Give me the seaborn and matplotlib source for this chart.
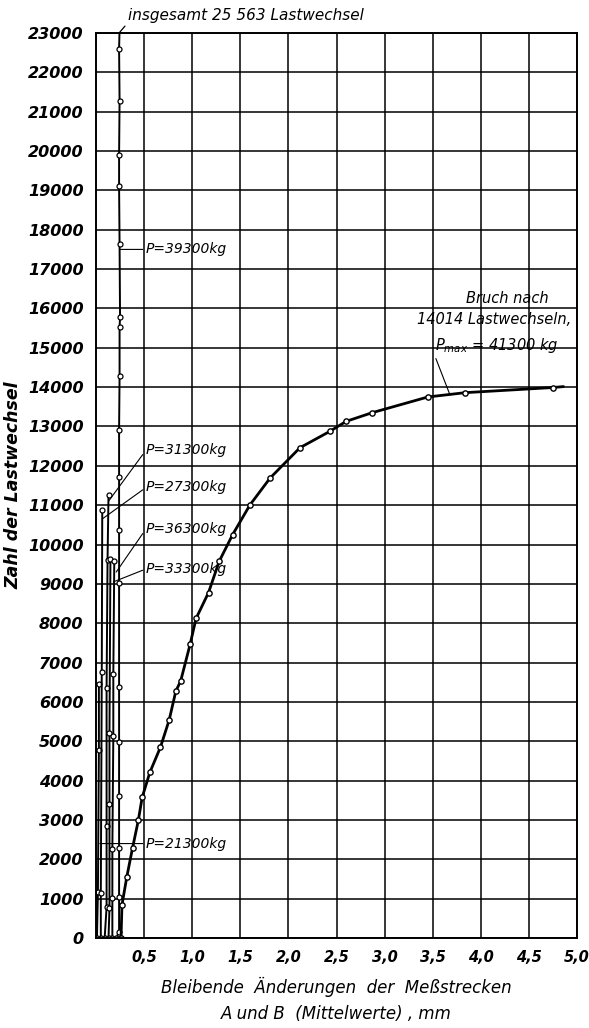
import numpy as np
import pandas as pd
import matplotlib
matplotlib.use("Agg")
import matplotlib.pyplot as plt
import seaborn as sns

sns.set_style("white")
plt.rcParams['font.family'] = ['DejaVu Sans']
plt.rcParams['text.color'] = 'black'
plt.rcParams['axes.labelcolor'] = 'black'
plt.rcParams['xtick.color'] = 'black'
plt.rcParams['ytick.color'] = 'black'

# load stages: permanent change (mm) vs. number of load cycles
p21300_x = [0.01, 0.02, 0.03, 0.03]
p21300_n = [0, 1180, 4770, 6450]

p27300_x = [0.05, 0.05, 0.06, 0.065]
p27300_n = [0, 1140, 6770, 10880]

p31300_x = [0.09, 0.11, 0.11, 0.11, 0.12, 0.13]
p31300_n = [0, 780, 2855, 6345, 9600, 11260]

p33300_x = [0.13, 0.14, 0.14, 0.14, 0.15]
p33300_n = [0, 755, 3405, 5200, 9620]

p36300_x = [0.17, 0.17, 0.17, 0.18, 0.18, 0.19]
p36300_n = [0, 1010, 2260, 5130, 6700, 9580]

p39300_x = [0.21, 0.24, 0.24, 0.24, 0.24, 0.24, 0.24, 0.24, 0.24, 0.24, 0.24,
            0.245, 0.245, 0.25, 0.245, 0.24, 0.24, 0.245, 0.24, 0.25]
p39300_n = [0, 160, 1030, 2290, 3620, 4970, 6370, 9010, 10380, 11720, 12920,
            14280, 15520, 15770, 17630, 19110, 19900, 21280, 22600, 23600]

# final test up to fracture (Pmax = 41300 kg)
p41300_x = [0.26, 0.27, 0.32, 0.38, 0.44, 0.48, 0.56, 0.67, 0.76, 0.83, 0.88,
            0.98, 1.04, 1.17, 1.28, 1.42, 1.60, 1.81, 2.12, 2.43, 2.60, 2.87,
            3.45, 3.84, 4.75, 4.86]
p41300_n = [0, 840, 1550, 2290, 2990, 3575, 4210, 4850, 5535, 6275, 6530,
            7480, 8120, 8780, 9570, 10250, 11005, 11690, 12460, 12875, 13130,
            13350, 13750, 13860, 13990, 14014]

x_ticks = [0.5, 1.0, 1.5, 2.0, 2.5, 3.0, 3.5, 4.0, 4.5, 5.0]
x_ticklabels = ["0,5", "1,0", "1,5", "2,0", "2,5", "3,0", "3,5", "4,0", "4,5", "5,0"]
y_ticks = list(range(0, 23001, 1000))

stages = {
    "P=21300kg": (p21300_x, p21300_n),
    "P=27300kg": (p27300_x, p27300_n),
    "P=31300kg": (p31300_x, p31300_n),
    "P=33300kg": (p33300_x, p33300_n),
    "P=36300kg": (p36300_x, p36300_n),
    "P=39300kg": (p39300_x, p39300_n),
}

fig = plt.figure(figsize=(5.89, 10.28), dpi=100)
ax = fig.add_axes([96 / 589, 1 - 938 / 1028, (577 - 96) / 589, (938 - 33) / 1028])

for name, (xs, ns) in stages.items():
    df = pd.DataFrame({"x": xs, "n": ns})
    sns.lineplot(data=df, x="x", y="n", sort=False, estimator=None, ax=ax,
                 color="black", lw=1.4, marker="o", markersize=3.6,
                 markerfacecolor="white", markeredgecolor="black",
                 markeredgewidth=0.9)

df_main = pd.DataFrame({"x": p41300_x, "n": p41300_n})
sns.lineplot(data=df_main, x="x", y="n", sort=False, estimator=None, ax=ax,
             color="black", lw=2.0, marker="o", markersize=3.8,
             markerfacecolor="white", markeredgecolor="black",
             markeredgewidth=1.0, markevery=list(range(len(p41300_x) - 1)))

ax.set_xlim(0, 5.0)
ax.set_ylim(0, 23000)
ax.set_xticks(x_ticks)
ax.set_xticklabels(x_ticklabels, fontsize=10.5, fontweight="bold", style="italic")
ax.set_yticks(y_ticks)
ax.set_yticklabels([str(v) for v in y_ticks], fontsize=11.5, fontweight="bold",
                   style="italic")
ax.tick_params(length=0, pad=9)
ax.grid(True, color="black", lw=1.1)
for s in ax.spines.values():
    s.set_color("black")
    s.set_linewidth(1.4)

ax.set_xlabel("Bleibende  Änderungen  der  Meßstrecken\nA und B  (Mittelwerte) , mm",
              fontsize=12, style="italic", linespacing=1.6, labelpad=8)
ax.set_ylabel("Zahl der Lastwechsel", fontsize=12.5, fontweight="bold",
              style="italic", labelpad=4)

# labels with leader lines
label_pos = {
    "P=39300kg": ((0.245, 17500), (0.52, 17500)),
    "P=31300kg": ((0.13, 11100), (0.52, 12400)),
    "P=27300kg": ((0.065, 10650), (0.52, 11450)),
    "P=36300kg": ((0.21, 9300), (0.52, 10400)),
    "P=33300kg": ((0.18, 9050), (0.52, 9380)),
    "P=21300kg": ((0.04, 2400), (0.52, 2400)),
}
for name, (xy, xytext) in label_pos.items():
    ax.annotate(name, xy=xy, xytext=xytext, fontsize=10, style="italic",
                va="center", ha="left",
                arrowprops=dict(arrowstyle="-", color="black", lw=0.8,
                                shrinkA=0, shrinkB=0, relpos=(0, 0.5)))

ax.annotate("insgesamt 25 563 Lastwechsel", xy=(0.24, 23000), xytext=(0.33, 23450),
            fontsize=11, style="italic", va="center", ha="left",
            annotation_clip=False,
            arrowprops=dict(arrowstyle="-", color="black", lw=0.9,
                            shrinkA=0, shrinkB=0, relpos=(0, 0)))

fig.text(507 / 589, 1 - 298 / 1028, "Bruch nach", fontsize=10.5, style="italic",
         ha="center", va="center")
fig.text(494 / 589, 1 - 319 / 1028, "14014 Lastwechseln,", fontsize=10.5,
         style="italic", ha="center", va="center")
ax.annotate(r"$\mathit{P}_{\mathit{max}}$ = 41300 kg", xy=(3.68, 13800),
            xytext=(3.52, 15050), fontsize=10.5, style="italic",
            va="center", ha="left",
            arrowprops=dict(arrowstyle="-", color="black", lw=0.8,
                            shrinkA=0, shrinkB=0, relpos=(0.0, 0.0)))

fig.savefig("out.png", dpi=100, facecolor="white")
